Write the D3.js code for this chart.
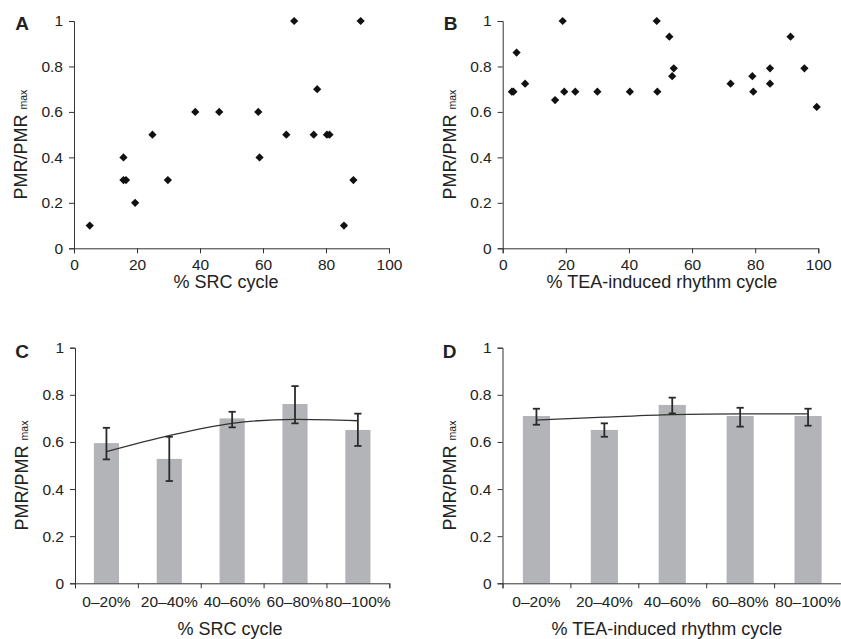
<!DOCTYPE html>
<html>
<head>
<meta charset="utf-8">
<script src="https://cdn.jsdelivr.net/npm/d3@7"></script>
<style>
  body { margin: 0; background: #fff; }
  svg { display: block; font-family: "Liberation Sans", Arial, sans-serif; }
  .axis path, .axis line { stroke: #333; }
  .axis text { font-size: 15.5px; fill: #222; font-family: "Liberation Sans", Arial, sans-serif; }
</style>
</head>
<body>
<svg id="chart" width="841" height="639"></svg>
<script>
// Panel A: % SRC cycle vs PMR/PMRmax
const srcX = [5, 15.7, 15.7, 16.5, 19.4, 24.9, 29.8, 38.5, 46.1, 58.5, 58.9, 67.4, 69.9, 76.1, 77.2, 80.3, 81.1, 85.7, 88.7, 91.0];
const srcY = [0.1, 0.4, 0.3, 0.3, 0.2, 0.5, 0.3, 0.6, 0.6, 0.6, 0.4, 0.5, 1.0, 0.5, 0.7, 0.5, 0.5, 0.1, 0.3, 1.0];

// Panel B: % TEA-induced rhythm cycle vs PMR/PMRmax
const teaX = [2.9, 3.4, 4.4, 7.1, 16.6, 19.0, 19.5, 23.0, 30.0, 40.3, 48.8, 49.0, 52.8, 53.7, 54.2, 72.2, 79.1, 79.4, 84.7, 84.7, 91.2, 95.6, 99.5];
const teaY = [0.689, 0.689, 0.861, 0.724, 0.652, 1.0, 0.689, 0.689, 0.689, 0.689, 1.0, 0.689, 0.931, 0.757, 0.792, 0.724, 0.757, 0.689, 0.792, 0.724, 0.931, 0.792, 0.622];

// Binned means (C, D)
const bins = ["0\u201320%", "20\u201340%", "40\u201360%", "60\u201380%", "80\u2013100%"];
const srcMean = [0.595, 0.528, 0.70, 0.761, 0.651];
const srcLow  = [0.526, 0.434, 0.662, 0.679, 0.583];
const srcHigh = [0.66, 0.622, 0.728, 0.837, 0.72];
const srcFit  = [0.559, 0.627, 0.679, 0.696, 0.690];

const teaMean = [0.71, 0.651, 0.757, 0.71, 0.71];
const teaLow  = [0.673, 0.622, 0.721, 0.665, 0.669];
const teaHigh = [0.741, 0.679, 0.788, 0.745, 0.741];
const teaFit  = [0.693, 0.705, 0.716, 0.719, 0.719];

const yTicks = [0, 0.2, 0.4, 0.6, 0.8, 1];
const xTicks = [0, 20, 40, 60, 80, 100];

const svg = d3.select("#chart");

function yTitle(x, y) {
    const t = svg.append("text")
        .attr("transform", `translate(${x},${y}) rotate(-90)`)
        .attr("text-anchor", "middle")
        .attr("fill", "#222")
        .style("font-size", "18px");
    t.append("tspan").text("PMR/PMR ");
    t.append("tspan").style("font-size", "10.5px").text("max");
}

function panelLetter(letter, x, y) {
    svg.append("text")
        .attr("x", x).attr("y", y)
        .attr("text-anchor", "middle")
        .style("font-size", "19px")
        .style("font-weight", "bold")
        .attr("fill", "#222")
        .text(letter);
}

function yAxis(y, x0) {
    svg.append("g")
        .attr("class", "axis")
        .attr("transform", `translate(${x0},0)`)
        .call(d3.axisLeft(y).tickValues(yTicks).tickFormat(d3.format("")).tickSizeOuter(0).tickSize(5).tickPadding(6));
}

function scatterPanel(o) {
    const x = d3.scaleLinear().domain([0, 100]).range([o.x0, o.x1]);
    const y = d3.scaleLinear().domain([0, 1]).range([o.yb, o.yt]);

    yAxis(y, o.x0);
    svg.append("g")
        .attr("class", "axis")
        .attr("transform", `translate(0,${o.yb})`)
        .call(d3.axisBottom(x).tickValues(xTicks).tickSizeOuter(0).tickSize(5).tickPadding(6));

    svg.append("g").selectAll("path")
        .data(o.xs)
        .enter().append("path")
        .attr("d", d3.symbol(d3.symbolSquare, 34))
        .attr("transform", (d, i) => `translate(${x(d)},${y(o.ys[i])}) rotate(45)`)
        .attr("fill", "#111");

    svg.append("text")
        .attr("x", o.tx).attr("y", o.yb + 40)
        .attr("text-anchor", "middle")
        .attr("fill", "#222")
        .style("font-size", "18px")
        .text(o.title);
    yTitle(o.x0 - 47, (o.yt + o.yb) / 2 + 10);
    panelLetter(o.letter, o.x0 - 52, o.yt + 9);
}

function barPanel(o) {
    const xb = d3.scaleBand().domain(bins).range([o.x0, o.x1]).paddingInner(0.6).paddingOuter(0.3);
    const xl = d3.scaleLinear().domain([0, bins.length]).range([o.x0, o.x1]);
    const y = d3.scaleLinear().domain([0, 1]).range([o.yb, o.yt]);

    yAxis(y, o.x0);

    // bars
    svg.append("g").selectAll("rect")
        .data(o.mean)
        .enter().append("rect")
        .attr("x", (d, i) => xb(bins[i]))
        .attr("y", d => y(d))
        .attr("width", xb.bandwidth())
        .attr("height", d => o.yb - y(d))
        .attr("fill", "#b3b4b8");

    // x axis with boundary ticks
    svg.append("g")
        .attr("class", "axis")
        .attr("transform", `translate(0,${o.yb})`)
        .call(d3.axisBottom(xl).ticks(bins.length).tickFormat("").tickSizeOuter(0).tickSize(5));
    svg.append("g")
        .attr("class", "axis")
        .attr("transform", `translate(0,${o.yb})`)
        .call(d3.axisBottom(xb).tickSize(0).tickPadding(13))
        .call(g => g.select(".domain").remove());

    const cx = i => xb(bins[i]) + xb.bandwidth() / 2;

    // fitted curve
    svg.append("path")
        .datum(o.fit)
        .attr("d", d3.line().x((d, i) => cx(i)).y(d => y(d)).curve(d3.curveMonotoneX))
        .attr("fill", "none")
        .attr("stroke", "#333")
        .attr("stroke-width", 1.3);

    // error bars
    const eb = svg.append("g").attr("stroke", "#2a2a2a").attr("stroke-width", 1.8);
    o.low.forEach((lo, i) => {
        const hi = o.high[i];
        eb.append("line").attr("x1", cx(i)).attr("x2", cx(i)).attr("y1", y(lo)).attr("y2", y(hi));
        eb.append("line").attr("x1", cx(i) - 3.6).attr("x2", cx(i) + 3.6).attr("y1", y(lo)).attr("y2", y(lo));
        eb.append("line").attr("x1", cx(i) - 3.6).attr("x2", cx(i) + 3.6).attr("y1", y(hi)).attr("y2", y(hi));
    });

    svg.append("text")
        .attr("x", o.tx).attr("y", o.yb + 52)
        .attr("text-anchor", "middle")
        .attr("fill", "#222")
        .style("font-size", "18px")
        .text(o.title);
    yTitle(o.x0 - 47, (o.yt + o.yb) / 2 + 10);
    panelLetter(o.letter, o.x0 - 53, o.yt + 10);
}

scatterPanel({letter: "A", x0: 74, x1: 389, yt: 21, yb: 248.3, tx: 226, title: "% SRC cycle", xs: srcX, ys: srcY});
scatterPanel({letter: "B", x0: 502.7, x1: 818.3, yt: 21, yb: 248.3, tx: 662, title: "% TEA-induced rhythm cycle", xs: teaX, ys: teaY});
barPanel({letter: "C", x0: 75, x1: 389.3, yt: 347.7, yb: 583.3, tx: 230, title: "% SRC cycle", mean: srcMean, low: srcLow, high: srcHigh, fit: srcFit});
barPanel({letter: "D", x0: 502.5, x1: 842, yt: 347.7, yb: 583.3, tx: 667, title: "% TEA-induced rhythm cycle", mean: teaMean, low: teaLow, high: teaHigh, fit: teaFit});
</script>
</body>
</html>
